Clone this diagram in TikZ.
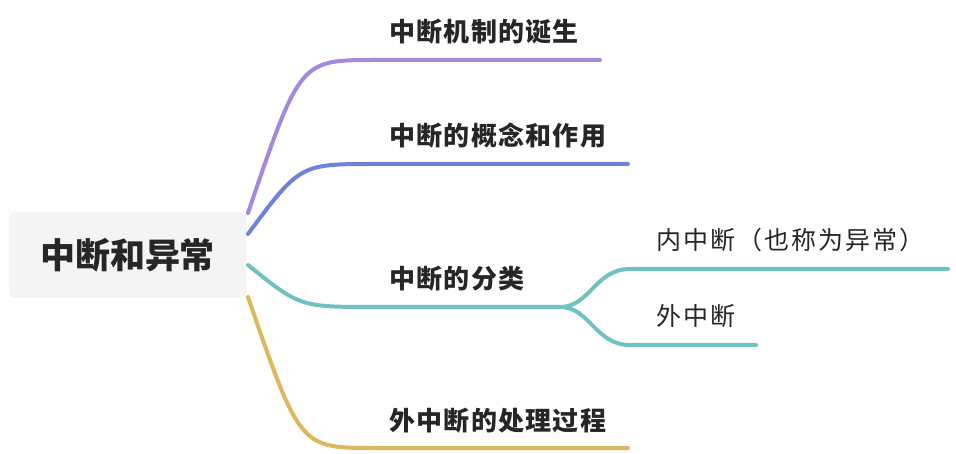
\documentclass[tikz,border=0pt]{standalone}
\usepackage{fontspec}
\usetikzlibrary{positioning}
\newfontfamily\cjk{Noto Sans CJK SC}
\newfontfamily\cjklab[LetterSpace=5]{Noto Sans CJK SC}
\newfontfamily\cjksub[LetterSpace=8]{Noto Sans CJK SC}
\definecolor{rootgray}{HTML}{F4F4F4}
\definecolor{txtdark}{HTML}{262626}
\definecolor{brpurple}{HTML}{A389DB}
\definecolor{brblue}{HTML}{6C83D9}
\definecolor{brteal}{HTML}{6EC2C2}
\definecolor{brgold}{HTML}{DDB85C}
\tikzset{
  rootbox/.style={fill=rootgray, rounded corners=6pt, minimum width=237pt, minimum height=86pt, inner sep=0pt, align=center, text=txtdark, font=\cjk\bfseries\fontsize{35}{40}\selectfont},
  lab/.style={anchor=base west, inner sep=0pt, text=txtdark, font=\cjklab\bfseries\fontsize{26}{30}\selectfont},
  sublab/.style={anchor=base west, inner sep=0pt, text=txtdark, font=\cjksub\fontsize{25}{28}\selectfont},
  br/.style={line width=4pt, line cap=round},
}
\begin{document}
\begin{tikzpicture}[x=1pt, y=-1pt]
\useasboundingbox (0,0) rectangle (956,454);

\node[rootbox] (root) at (127.5,255) {中断和异常};

% branch ends
\coordinate (s1) at (248,213);
\coordinate (s2) at (248,234);
\coordinate (s3) at (248,265);
\coordinate (s4) at (248,297);
\coordinate (e1) at (600,60);
\coordinate (e2) at (628,164);
\coordinate (e3) at (560,307);
\coordinate (e31) at (948,269);
\coordinate (e32) at (756,345);
\coordinate (e4) at (628,448);

\node[lab] (l1) at (389,42) {中断机制的诞生};
\node[lab] (l2) at (389,146) {中断的概念和作用};
\node[lab] (l3) at (389,289) {中断的分类};
\node[lab] (l4) at (389,430) {外中断的处理过程};
\node[sublab] (l31) at (656,250) {内中断（也称为异常）};
\node[sublab] (l32) at (656,326) {外中断};

\draw[br, brpurple] (s1) .. controls (300,60) .. (375,60) -- (e1);
\draw[br, brblue] (s2) .. controls (300,164) .. (375,164) -- (e2);
\draw[br, brteal] (s3) .. controls (300,307) .. (375,307) -- (e3);
\draw[br, brteal] (e3) .. controls (590,307) and (595,269) .. (630,269) -- (e31);
\draw[br, brteal] (e3) .. controls (590,307) and (595,345) .. (630,345) -- (e32);
\draw[br, brgold] (s4) .. controls (300,448) .. (375,448) -- (e4);
\end{tikzpicture}
\end{document}
